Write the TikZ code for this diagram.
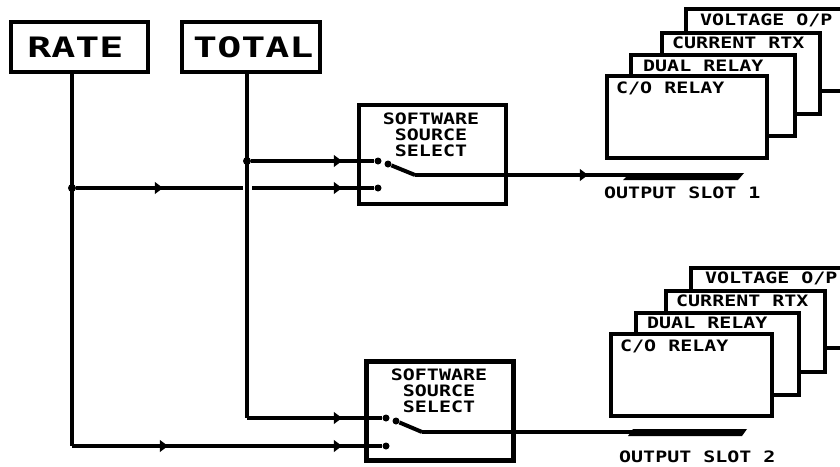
\documentclass[tikz,border=0pt]{standalone}
\usepackage{fontspec}
\usetikzlibrary{arrows.meta}
\newfontfamily\cardfont[FakeStretch=1.27]{DejaVu Sans Mono Bold}
\newfontfamily\bigfont[FakeStretch=1.42]{DejaVu Sans Mono Bold}
\def\px{.03cm}
\tikzset{
	src/.style={draw,line width=4pt,inner sep=0pt,minimum height=50*\px,font=\bigfont\fontsize{24pt}{26pt}\selectfont},
	selbox/.style={draw,line width=4pt,minimum width=147*\px,minimum height=99*\px},
	seltext/.style={inner sep=0pt,align=center,font=\cardfont\fontsize{13.4pt}{13.65pt}\selectfont},
	card/.style={draw,line width=4pt,fill=white},
	cardtext/.style={inner sep=0pt,anchor=west,font=\cardfont\fontsize{13.4pt}{14pt}\selectfont},
	wire/.style={line width=2.6pt},
	feed/.style={wire,-{Triangle[length=7pt,width=10pt]}},
	arm/.style={line width=3.4pt},
	dot/.style={circle,fill,inner sep=0pt,minimum size=8*\px},
	contact/.style={circle,fill,inner sep=0pt,minimum size=7*\px},
	slot/.style={fill=black,draw=none}
}
\begin{document}
\begin{tikzpicture}[x=\px,y=-\px]
	\useasboundingbox (0,0) rectangle (840,466);
	% sources
	\node[src,minimum width=137*\px] (rate) at (79.5,47) {RATE\hspace*{7pt}};
	\node[src,minimum width=138*\px] (total) at (251,47) {\hspace*{4pt}TOTAL};
	% selectors
	\node[selbox] (sel1) at (432.5,154.5) {};
	\node[seltext] (sel1t) at (431,135) {SOFTWARE\\SOURCE\\SELECT};
	\node[selbox] (sel2) at (440,411) {};
	\node[seltext] (sel2t) at (439,391) {SOFTWARE\\SOURCE\\SELECT};
	% cards, slot 1
	\coordinate (v1a) at (686,33);
	\coordinate (v1b) at (686,9);
	\coordinate (v1c) at (840,9);
	\coordinate (v1d) at (820,91);
	\coordinate (v1e) at (840,91);
	\draw[line width=4pt] (v1a) -- (v1b) -- (v1c);
	\draw[line width=4pt] (v1d) -- (v1e);
	\node[card,minimum width=158*\px,minimum height=81*\px] (cur1) at (741,73.5) {};
	\node[card,minimum width=164*\px,minimum height=81*\px] (dual1) at (713,95.5) {};
	\node[card,minimum width=160*\px,minimum height=82*\px] (co1) at (687,117) {};
	\node[cardtext] (v1t) at (700,20) {VOLTAGE O/P};
	\node[cardtext] (cur1t) at (672,43) {CURRENT RTX};
	\node[cardtext] (dual1t) at (643,66) {DUAL RELAY};
	\node[cardtext] (co1t) at (616,88) {C/O RELAY};
	% cards, slot 2
	\coordinate (v2a) at (691,291);
	\coordinate (v2b) at (691,268);
	\coordinate (v2c) at (840,268);
	\coordinate (v2d) at (825,348);
	\coordinate (v2e) at (840,348);
	\draw[line width=4pt] (v2a) -- (v2b) -- (v2c);
	\draw[line width=4pt] (v2d) -- (v2e);
	\node[card,minimum width=159*\px,minimum height=81*\px] (cur2) at (745.5,331.5) {};
	\node[card,minimum width=163*\px,minimum height=82*\px] (dual2) at (717.5,354) {};
	\node[card,minimum width=161*\px,minimum height=82*\px] (co2) at (691.5,375) {};
	\node[cardtext] (v2t) at (705,278) {VOLTAGE O/P};
	\node[cardtext] (cur2t) at (676,301) {CURRENT RTX};
	\node[cardtext] (dual2t) at (647,323) {DUAL RELAY};
	\node[cardtext] (co2t) at (620,346) {C/O RELAY};
	% slots
	\fill[slot] (630,173) -- (744,173) -- (738,180) -- (623,180) -- cycle;
	\fill[slot] (633,429) -- (747,429) -- (742,436) -- (628,436) -- cycle;
	\node[cardtext] (out1) at (604,193) {OUTPUT SLOT 1};
	\node[cardtext] (out2) at (619,457) {OUTPUT SLOT 2};
	% junctions and contacts
	\node[dot] (rj) at (72,188) {};
	\node[dot] (tj) at (247,161) {};
	\node[contact] (c1a) at (378,161) {};
	\node[contact] (c1b) at (378,188) {};
	\node[contact] (p1) at (388,164) {};
	\node[contact] (c2a) at (386,418) {};
	\node[contact] (c2b) at (386,446) {};
	\node[contact] (p2) at (396,421) {};
	\coordinate (t1) at (415,175);
	\coordinate (t2) at (422,432);
	\coordinate (a1) at (163,188);
	\coordinate (g1) at (243,188);
	\coordinate (g2) at (252,188);
	\coordinate (a2) at (342,188);
	\coordinate (a3) at (342,161);
	\coordinate (a4) at (588,175);
	\coordinate (s1) at (630,175);
	\coordinate (s2) at (633,432);
	\coordinate (rb) at (72,446);
	\coordinate (tb) at (247,418);
	\coordinate (a5) at (342,418);
	\coordinate (a6) at (168,446);
	\coordinate (a7) at (342,446);
	% wires
	\draw[wire] (rate.south -| rj) -- (rb);
	\draw[wire] (total.south -| tj) -- (tb);
	\draw[wire] (rj) -- (g1);
	\draw[feed] (rj) -- (a1);
	\draw[wire] (g2) -- (c1b);
	\draw[feed] (g2) -- (a2);
	\draw[wire] (tj) -- (c1a);
	\draw[feed] (tj) -- (a3);
	\draw[arm] (p1) -- (t1);
	\draw[wire] (t1) -- (s1);
	\draw[feed] (t1) -- (a4);
	\draw[wire] (tb) -- (c2a);
	\draw[feed] (tb) -- (a5);
	\draw[wire] (rb) -- (c2b);
	\draw[feed] (rb) -- (a6);
	\draw[feed] (rb) -- (a7);
	\draw[arm] (p2) -- (t2);
	\draw[wire] (t2) -- (s2);
\end{tikzpicture}
\end{document}
